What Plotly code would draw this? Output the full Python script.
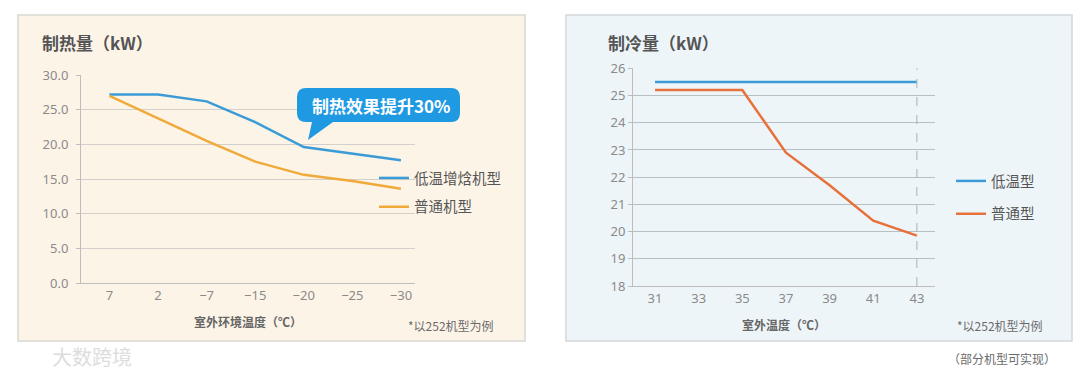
import plotly.graph_objects as go

W, H = 1080, 377

# ---------------- data ----------------
heat_temps = ["7", "2", "−7", "−15", "−20", "−25", "−30"]
heat_low_temp = [27.2, 27.2, 26.2, 23.2, 19.6, 18.7, 17.7]   # 低温增焓机型
heat_normal = [27.0, 23.8, 20.5, 17.5, 15.6, 14.7, 13.6]     # 普通机型

cool_temps = [31, 33, 35, 37, 39, 41, 43]
cool_low_temp = [25.5, 25.5, 25.5, 25.5, 25.5, 25.5, 25.5]   # 低温型
cool_normal = [25.2, 25.2, 25.2, 22.9, 21.7, 20.4, 19.85]     # 普通型

heat_names = ["低温增焓机型", "普通机型"]
cool_names = ["低温型", "普通型"]

# ---------------- style ----------------
BLUE = "#3b9bd6"
GOLD = "#f0aa3a"
ORANGE = "#e6713b"
CALLOUT = "#1f9ae2"
CJK = "Noto Sans CJK SC"
NUM = "Noto Sans, Noto Sans CJK SC"


def px(x):
    return x / W


def py(y):
    return 1 - y / H


fig = go.Figure()

fig.add_trace(go.Scatter(x=heat_temps, y=heat_low_temp, name=heat_names[0], mode="lines",
                         line=dict(color=BLUE, width=2.5), xaxis="x", yaxis="y",
                         legend="legend", legendgroup="a"))
fig.add_trace(go.Scatter(x=heat_temps, y=heat_normal, name=heat_names[1], mode="lines",
                         line=dict(color=GOLD, width=2.5), xaxis="x", yaxis="y",
                         legend="legend", legendgroup="b"))
fig.add_trace(go.Scatter(x=cool_temps, y=cool_low_temp, name=cool_names[0], mode="lines",
                         line=dict(color=BLUE, width=2.5), xaxis="x2", yaxis="y2",
                         legend="legend2", legendgroup="c"))
fig.add_trace(go.Scatter(x=cool_temps, y=cool_normal, name=cool_names[1], mode="lines",
                         line=dict(color=ORANGE, width=2.5), xaxis="x2", yaxis="y2",
                         legend="legend2", legendgroup="d"))

shapes = []
# panel backgrounds
shapes.append(dict(type="rect", xref="paper", yref="paper", layer="below",
                   x0=px(18), x1=px(525), y0=py(341), y1=py(15),
                   fillcolor="#fdf4e8", line=dict(color="#d9d6d2", width=1.5)))
shapes.append(dict(type="rect", xref="paper", yref="paper", layer="below",
                   x0=px(566), x1=px(1072), y0=py(341), y1=py(15),
                   fillcolor="#eef5f9", line=dict(color="#d3d8db", width=1.5)))
# dashed reference line at the last cooling temperature
shapes.append(dict(type="line", xref="x2", yref="y2", x0=cool_temps[-1], x1=cool_temps[-1],
                   y0=18, y1=26, line=dict(color="#a9b0b5", width=1, dash="dash")))

# callout bubble (pixel geometry)
L, R, T, B, r = 297, 460, 88, 122, 9
pts = [
    ("M", (L + r, T)), ("L", (R - r, T)), ("Q", (R, T), (R, T + r)),
    ("L", (R, B - r)), ("Q", (R, B), (R - r, B)), ("L", (333, B)), ("L", (308, 140)),
    ("L", (312, B)), ("L", (L + r, B)), ("Q", (L, B), (L, B - r)), ("L", (L, T + r)),
    ("Q", (L, T), (L + r, T)),
]
path = ""
for seg in pts:
    cmd = seg[0]
    coords = " ".join(f"{px(a):.5f},{py(b):.5f}" for a, b in seg[1:])
    path += f"{cmd} {coords} "
path += "Z"
shapes.append(dict(type="path", xref="paper", yref="paper", path=path,
                   fillcolor=CALLOUT, line=dict(width=0)))


def note(text, x, y, size, color, anchor="left", weight="normal"):
    return dict(text=text, x=px(x), y=py(y), xref="paper", yref="paper",
                xanchor=anchor, yanchor="middle", showarrow=False,
                font=dict(family=CJK, size=size, color=color, weight=weight))


annotations = [
    note("制热效果提升30%", (L + R) / 2 + 2, (T + B) / 2, 17, "white", "center", "bold"),
    note("制热量（kW）", 40, 42, 17, "#555555", weight="bold"),
    note("制冷量（kW）", 606, 42, 17, "#555555", weight="bold"),
    note("*以252机型为例", 406, 325, 12, "#6a6a6a"),
    note("*以252机型为例", 955, 325, 12, "#6a6a6a"),
    note("（部分机型可实现）", 946, 358, 12, "#6a6a6a"),
    note("大数跨境", 50, 356, 20, "#dddddd"),
]

axis_common = dict(showline=True, linecolor="#bdbdbd", linewidth=1, zeroline=False,
                   automargin=False,
                   tickfont=dict(family=NUM, size=13, color="#8a8a8a"))

fig.update_layout(
    width=W, height=H, margin=dict(l=0, r=0, t=0, b=0, pad=0, autoexpand=False),
    paper_bgcolor="white", plot_bgcolor="rgba(0,0,0,0)",
    shapes=shapes, annotations=annotations,
    xaxis=dict(domain=[px(81), px(415)], anchor="y", type="category",
               range=[-0.586, 6.29], showgrid=False, ticks="",
               title=dict(text="室外环境温度（℃）", standoff=16,
                          font=dict(family=CJK, size=12, color="#666666", weight="bold")),
               **axis_common),
    yaxis=dict(domain=[py(283), py(75)], anchor="x", range=[0, 30], dtick=5, tickformat=".1f",
               showgrid=True, gridcolor="#d3cfca", gridwidth=1, ticks="outside", ticklen=4,
               tickcolor="#bdbdbd", ticklabelstandoff=5, **axis_common),
    xaxis2=dict(domain=[px(633), px(935)], anchor="y2", range=[29.99, 43.83],
                tickvals=cool_temps, showgrid=False, ticks="",
                title=dict(text="室外温度（℃）", standoff=16,
                           font=dict(family=CJK, size=12, color="#666666", weight="bold")),
                **axis_common),
    yaxis2=dict(domain=[py(286), py(68.3)], anchor="x2", range=[18, 26], dtick=1,
                showgrid=True, gridcolor="#b9c0c5", gridwidth=1, ticks="outside", ticklen=4,
                tickcolor="#bdbdbd", **axis_common),
    legend=dict(x=px(374), y=py(162), xanchor="left", yanchor="top", bgcolor="rgba(0,0,0,0)",
                font=dict(family=CJK, size=14.5, color="#555555"), tracegroupgap=7,
                itemwidth=30),
    legend2=dict(x=px(951), y=py(165), xanchor="left", yanchor="top", bgcolor="rgba(0,0,0,0)",
                 font=dict(family=CJK, size=14.5, color="#555555"), tracegroupgap=11,
                 itemwidth=30),
    showlegend=True,
)

fig.write_html("out.html", config={"displayModeBar": False},
               post_script="document.body.style.margin='0';")
